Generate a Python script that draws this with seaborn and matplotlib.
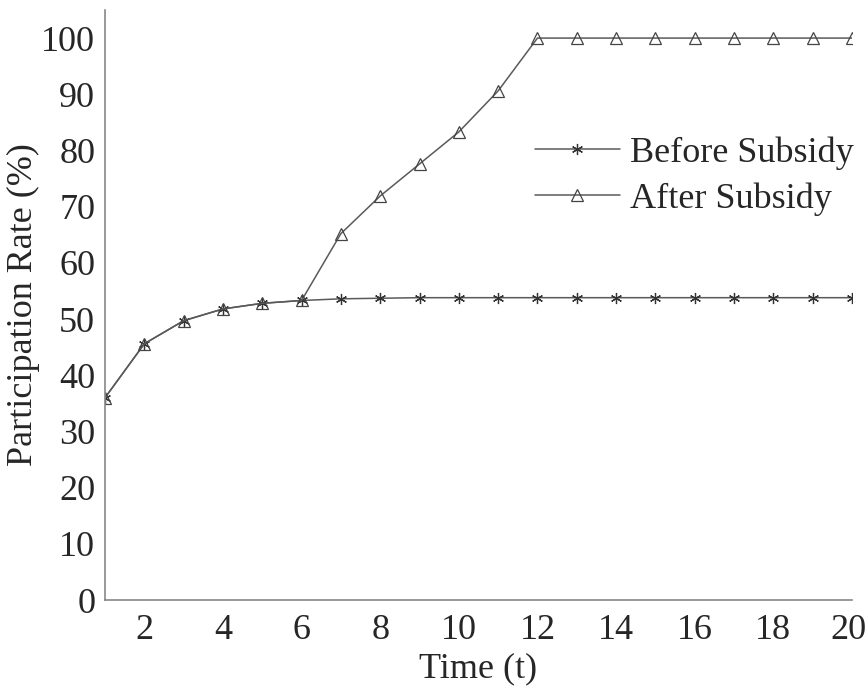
import matplotlib
matplotlib.use("Agg")
import matplotlib.pyplot as plt
import matplotlib.transforms as mtransforms
import seaborn as sns
import pandas as pd

time = list(range(1, 21))
before_subsidy = [36.0, 45.6, 49.7, 51.8, 52.8, 53.3, 53.6, 53.7, 53.8, 53.8,
                  53.8, 53.8, 53.8, 53.8, 53.8, 53.8, 53.8, 53.8, 53.8, 53.8]
after_subsidy = [36.0, 45.6, 49.7, 51.8, 52.8, 53.3, 65.2, 71.9, 77.6, 83.3,
                 90.6, 100, 100, 100, 100, 100, 100, 100, 100, 100]
x_ticks = [2, 4, 6, 8, 10, 12, 14, 16, 18, 20]
y_ticks = [0, 10, 20, 30, 40, 50, 60, 70, 80, 90, 100]

sns.set_theme(style="white")
plt.rcParams["font.family"] = ["Liberation Serif", "DejaVu Serif"]

df_before = pd.DataFrame({"t": time, "rate": before_subsidy})
df_after = pd.DataFrame({"t": time, "rate": after_subsidy})

fig = plt.figure(figsize=(8.68, 6.98), dpi=100)
ax = fig.add_axes([0.121, 0.1404, 0.8605, 0.8453])

line_color = "#5a5a5a"
sns.lineplot(data=df_before, x="t", y="rate", ax=ax, color=line_color,
             linewidth=1.1, marker=(6, 2, 0), markersize=8,
             markeredgecolor="#333333", markeredgewidth=0.9,
             label="Before Subsidy")
sns.lineplot(data=df_after, x="t", y="rate", ax=ax, color=line_color,
             linewidth=1.1, marker="^", markersize=9,
             markerfacecolor="none", markeredgecolor="#444444",
             markeredgewidth=0.9, label="After Subsidy")

ax.set_xlim(1, 20)
ax.set_ylim(0, 105)
ax.set_xticks(x_ticks)
ax.set_yticks(y_ticks)
ax.tick_params(axis="both", direction="in", length=5, width=1,
               color="#777777", labelsize=26)
ax.tick_params(axis="x", pad=10)
ax.tick_params(axis="y", pad=7)
for side in ["top", "right"]:
    ax.spines[side].set_visible(False)
for side in ["left", "bottom"]:
    ax.spines[side].set_color("#888888")
    ax.spines[side].set_linewidth(1.2)

# keep the last x tick label inside the canvas
last_label = ax.get_xticklabels()[-1]
last_label.set_transform(last_label.get_transform() +
                         mtransforms.ScaledTranslation(-4 / 100, 0, fig.dpi_scale_trans))

ax.set_xlabel("Time (t)", fontsize=26, labelpad=4)
ax.set_ylabel("Participation Rate (%)", fontsize=26)
ax.yaxis.set_label_coords(-0.087, 0.5)

ax.legend(loc="upper left", bbox_to_anchor=(0.616, 0.805),
          bbox_transform=fig.transFigure, frameon=False,
          fontsize=26, handlelength=2.35, handletextpad=0.28,
          labelspacing=0.35, borderaxespad=0, borderpad=0)

fig.savefig("out.png", dpi=100)
